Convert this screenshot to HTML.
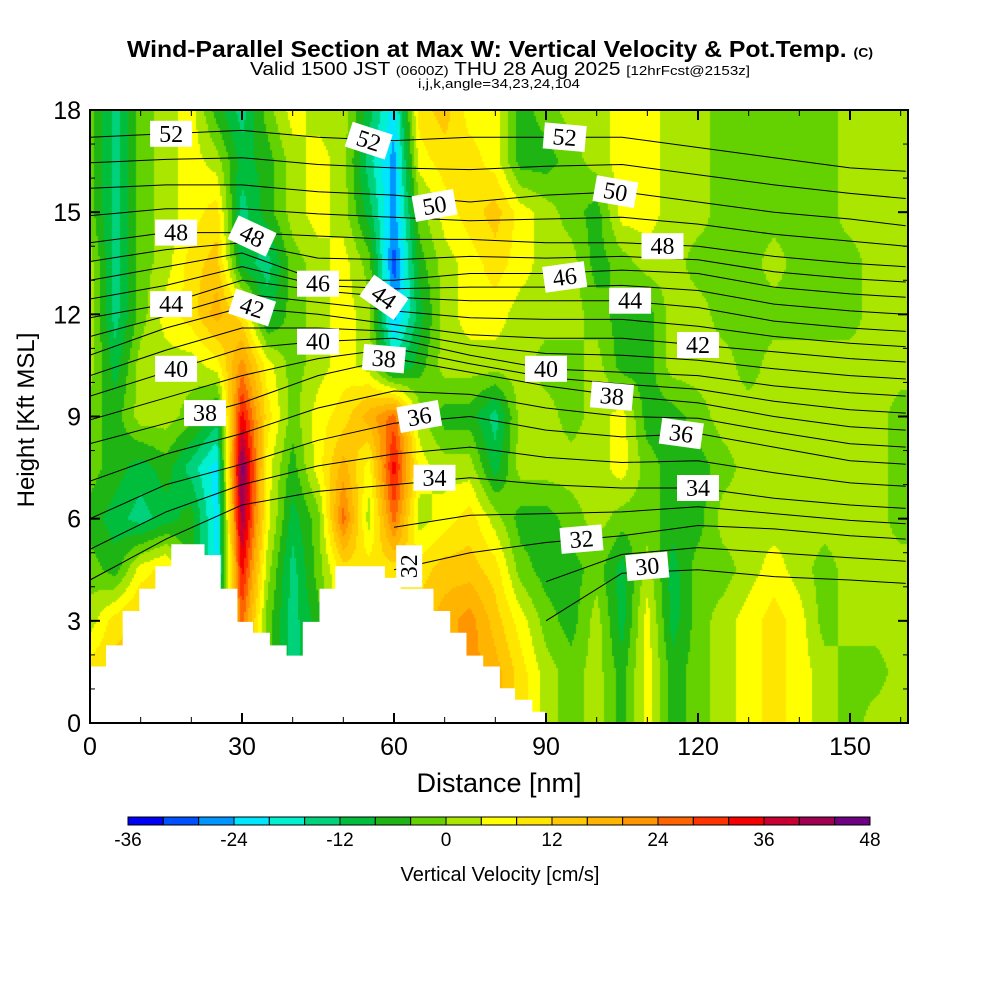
<!DOCTYPE html>
<html><head><meta charset="utf-8">
<style>
html,body{margin:0;padding:0;background:#fff;}
#wrap{position:relative;width:1000px;height:1000px;overflow:hidden;font-family:"Liberation Sans",sans-serif;}
canvas{position:absolute;left:90px;top:110px;}
svg{position:absolute;left:0;top:0;}
</style></head>
<body>
<div id="wrap">
<canvas id="field" width="818" height="613"></canvas>
<svg id="svg" width="1000" height="1000">
  <text x="127" y="57" textLength="746" lengthAdjust="spacingAndGlyphs" font-size="23" font-weight="bold">Wind-Parallel Section at Max W: Vertical Velocity &amp; Pot.Temp. <tspan font-size="13">(C)</tspan></text>
  <text x="250" y="75" textLength="500" lengthAdjust="spacingAndGlyphs" font-size="18">Valid 1500 JST <tspan font-size="13">(0600Z)</tspan> THU 28 Aug 2025 <tspan font-size="13">[12hrFcst@2153z]</tspan></text>
  <text x="418" y="88" textLength="162" lengthAdjust="spacingAndGlyphs" font-size="13">i,j,k,angle=34,23,24,104</text>
  <text x="499" y="792" text-anchor="middle" font-size="27">Distance [nm]</text>
  <text transform="translate(34,420) rotate(-90)" text-anchor="middle" font-size="24">Height [Kft MSL]</text>
  <text x="500" y="881" text-anchor="middle" font-size="20">Vertical Velocity [cm/s]</text>
</svg>
</div>
<script>
// ---- data ----
const xGrid = [0,5,10,15,20,25,30,35,40,45,50,55,60,65,70,75,80,85,90,95,100,105,110,115,120,125,130,135,140,145,150,155,160];
const hGrid = [18,16.5,15,13.5,12,10.5,9,7.5,6,4.5,3,1.5,0];
const wRow18   = [-2,-14,-2,2,6,-6,-14,-2,6,2,2,-10,-22,10,14,6,6,-6,-2,2,2,6,6,2,2,-2,-2,-2,-2,-2,2,2,2];
const wRow16_5 = [-2,-14,-2,2,6,2,-10,-6,2,6,2,-14,-26,6,10,10,6,-6,-6,-2,2,6,6,2,2,-2,-2,-2,-2,-2,2,2,2];
const wRow15   = [-2,-14,-2,2,6,10,-14,-6,2,6,2,-10,-26,-2,6,10,14,6,2,-2,-6,6,6,2,2,-2,-2,-2,-2,-2,2,2,2];
const wRow13_5 = [2,-14,-2,2,10,14,-10,-14,-2,2,6,-2,-30,-6,2,6,10,6,2,2,-6,-2,2,2,-2,-2,-2,2,-2,-2,-2,2,2];
const wRow12   = [2,-14,-2,6,10,18,10,-10,-2,2,6,2,-26,-10,2,6,6,2,2,2,-2,-6,-6,2,2,-2,-2,-2,-2,-2,-2,2,2];
const wRow10_5 = [2,-10,2,2,2,6,22,6,-2,2,6,2,-14,-6,2,2,2,2,-2,-2,2,-6,-6,2,2,2,-2,2,2,2,2,2,2];
const wRow9    = [-2,-6,2,2,-2,-10,34,10,-2,6,10,18,26,2,-6,-6,-14,2,2,-2,2,6,-6,-6,-2,2,2,2,2,2,2,2,-2];
const wRow7_5  = [-2,-6,-10,-6,-14,-22,46,6,-6,6,18,6,34,6,2,2,-10,2,2,2,2,6,-2,-6,-6,-2,2,2,2,2,2,2,-2];
const wRow6    = [-6,-10,-14,-10,-6,-22,42,6,-10,-2,26,2,26,2,6,10,2,-6,-6,-2,2,-2,-2,-6,-6,2,2,2,2,2,2,2,-2];
const wRow4_5  = [-2,-6,6,10,-6,-22,34,2,-14,-2,10,10,10,10,14,14,10,-2,-6,-6,-2,-10,2,-10,-2,-2,2,6,2,-2,2,2,2];
const wRow3    = [2,10,14,10,-6,-14,26,-2,-14,-6,10,10,10,14,18,22,14,6,-2,-6,2,-10,6,-10,-2,2,6,10,6,-2,2,2,2];
const wRow1_5  = [10,14,14,10,-6,-14,22,-2,-14,-6,10,10,10,14,18,22,18,10,2,-2,2,-6,6,-6,-2,2,6,10,6,2,-2,-2,2];
const wRow0    = [10,14,14,10,-6,-14,22,-2,-14,-6,10,10,10,14,18,22,18,10,2,-2,2,-6,6,-6,-2,2,6,10,6,2,-2,2,2];
const wRows = [wRow18,wRow16_5,wRow15,wRow13_5,wRow12,wRow10_5,wRow9,wRow7_5,wRow6,wRow4_5,wRow3,wRow1_5,wRow0];

const levels = [-36,-32,-28,-24,-20,-16,-12,-8,-4,0,4,8,12,16,20,24,28,32,36,40,44,48];
const colors = ["#0000f5","#0050ff","#0096ff","#00e6ff","#00f0d0","#00d27c","#00be3c","#1eb414","#64d200","#aae600","#ffff00","#ffe600","#ffc800","#ffb400","#ff9600","#ff6400","#ff3200","#f50000","#c80032","#a00050","#6e0082"];
const cbTicks = [-36,-24,-12,0,12,24,36,48];

const thetaX = [0,15,30,45,60,75,90,105,120,135,150,161];
const theta30 = [null,null,null,null,null,null,3.0,4.4,4.5,4.3,4.2,4.1];
const theta32 = [null,null,null,null,4.5,5.0,5.3,5.5,5.8,5.7,5.5,5.4];
const theta34 = [4.2,5.4,6.4,6.8,7.0,7.2,7.0,6.9,6.9,6.6,6.4,6.3];
const theta36 = [6.0,7.0,7.6,8.3,8.8,9.0,8.6,8.4,8.5,8.1,7.7,7.6];
const theta38 = [8.2,8.8,9.4,10.2,10.7,10.3,9.9,9.6,9.4,9.0,8.7,8.6];
const theta40 = [9.6,10.3,11.0,11.2,11.3,10.8,10.4,10.3,10.2,9.9,9.7,9.6];
const theta42 = [10.8,11.6,12.2,12.0,11.7,11.4,11.3,11.3,11.1,10.9,10.7,10.6];
const theta44 = [11.9,12.3,13.0,12.7,12.5,12.4,12.4,12.4,12.2,11.8,11.6,11.5];
const theta46 = [13.0,13.4,13.8,13.0,13.0,13.2,13.2,13.3,13.2,12.8,12.6,12.5];
const theta48 = [14.1,14.4,14.4,14.3,14.2,14.2,14.1,14.1,14.0,13.7,13.5,13.4];
const theta50 = [15.7,15.8,15.8,15.6,15.5,15.3,15.5,15.6,15.3,15.0,14.8,14.6];
const theta52 = [17.2,17.3,17.4,17.2,17.1,17.2,17.2,17.2,16.9,16.6,16.3,16.2];
const thetaLines = [theta30,theta32,theta34,theta36,theta38,theta40,theta42,theta44,theta46,theta48,theta50,theta52];

const labelLevel = [52,48,44,40,38,48,42,46,40,52,44,38,36,34,32,50,52,50,48,46,44,42,40,38,36,34,32,30];
const labelX     = [16,17,16,17,22.7,32,32,45,45,55,58,58,65,68,63,68,93.7,103.7,113,93.7,106.6,120,90,103,116.7,120,97,110];
const labelH     = [17.3,14.4,12.3,10.4,9.1,14.3,12.2,12.9,11.2,17.1,12.5,10.7,9.0,7.2,4.6,15.2,17.2,15.6,14.0,13.1,12.4,11.1,10.4,9.6,8.5,6.9,5.4,4.6];
const labelRot   = [0,0,0,0,0,25,18,0,0,18,35,5,-10,0,-90,-10,5,10,0,-8,0,0,0,5,8,0,-5,-5];

const terrainBreaks = [0,3.16,6.45,9.74,12.9,16.05,22.6,25.8,29.1,32.2,35.5,38.8,42,45.3,48.4,58.2,61.3,67.8,71.1,74.3,77.6,80.9,83.9,87.3,89.8];
const terrainH = [1.66,2.28,3.29,3.94,4.6,5.25,4.93,3.94,2.97,2.65,2.28,1.98,2.97,3.94,4.6,4.26,3.94,3.29,2.65,1.98,1.66,1.02,0.68,0.33];

const xTicks = [0,30,60,90,120,150];
const yTicks = [0,3,6,9,12,15,18];

// ---- axes ----
const PL=90, PT=110, PR=908, PB=723;
const X = v => PL + v*5.0667;
const Y = h => PB - h*(PB-PT)/18;
const NS = "http://www.w3.org/2000/svg";
const svg = document.getElementById('svg');
function mk(tag, attrs, parent){const e=document.createElementNS(NS,tag);for(const k in attrs)e.setAttribute(k,attrs[k]);(parent||svg).appendChild(e);return e;}

// ---- field ----
function wAt(nm,h){
  let fx=Math.min(Math.max(nm/5,0),xGrid.length-1.0001);
  let fh=Math.min(Math.max((18-h)/1.5,0),hGrid.length-1.0001);
  const i=Math.floor(fx), j=Math.floor(fh), a=fx-i, b=fh-j;
  const r0=wRows[j], r1=wRows[j+1];
  return (r0[i]*(1-a)+r0[i+1]*a)*(1-b)+(r1[i]*(1-a)+r1[i+1]*a)*b;
}
function colorFor(v){
  let k=Math.floor((v-levels[0])/4);
  k=Math.max(0,Math.min(colors.length-1,k));
  return colors[k];
}
const ctx=document.getElementById('field').getContext('2d');
const cs=2;
for(let py=0;py<613;py+=cs){
  for(let px=0;px<818;px+=cs){
    const nm=(px+cs/2)/5.0667, h=18-(py+cs/2)*18/613;
    ctx.fillStyle=colorFor(wAt(nm,h));
    ctx.fillRect(px,py,cs,cs);
  }
}

// ---- isentropes ----
const defs=mk('defs',{});
const cp=mk('clipPath',{id:'plotclip'},defs);
mk('rect',{x:PL,y:PT,width:PR-PL,height:PB-PT},cp);
const lineG=mk('g',{'clip-path':'url(#plotclip)'});


function drawLine(arr,name){
  let d='', started=false;
  for(let i=0;i<thetaX.length;i++){
    if(arr[i]==null){started=false;continue;}
    d+=(started?'L':'M')+X(thetaX[i]).toFixed(1)+' '+Y(arr[i]).toFixed(1)+' ';
    started=true;
  }
  const p=mk('path',{d:d,fill:'none',stroke:'#000','stroke-width':1},lineG);
  
  
}
for(let k=0;k<thetaLines.length;k++){
  drawLine(thetaLines[k],'isentrope-'+(30+2*k));
  if(k<thetaLines.length-1){
    const a=thetaLines[k], b=thetaLines[k+1];
    const mid=a.map((v,i)=>(v==null||b[i]==null)?null:(v+b[i])/2);
    drawLine(mid,'isentrope-'+(31+2*k));
  }
}

// ---- terrain ----
let td='M'+X(0)+' '+PB+' ';
for(let i=0;i<terrainH.length;i++){
  td+='L'+X(terrainBreaks[i]).toFixed(1)+' '+Y(terrainH[i]).toFixed(1)+' L'+X(terrainBreaks[i+1]).toFixed(1)+' '+Y(terrainH[i]).toFixed(1)+' ';
}
td+='L'+X(terrainBreaks[terrainBreaks.length-1]).toFixed(1)+' '+PB+' Z';
const terr=mk('path',{d:td,fill:'#fff',stroke:'none'});



// ---- contour labels ----
for(let i=0;i<labelLevel.length;i++){
  const g=mk('g',{transform:`translate(${X(labelX[i]).toFixed(1)},${Y(labelH[i]).toFixed(1)}) rotate(${labelRot[i]})`});
  
  
  mk('rect',{x:-21,y:-13,width:42,height:26,fill:'#fff'},g);
  const t=mk('text',{x:0,y:8,'text-anchor':'middle','font-size':24,'font-family':'"Liberation Serif",serif'},g);
  t.textContent=labelLevel[i];
}

// ---- frame and ticks ----
const frame=mk('rect',{x:PL,y:PT,width:PR-PL,height:PB-PT,fill:'none',stroke:'#000','stroke-width':2});


for(let v=0;v<=160;v+=10){
  const major=v%30===0;
  const L=major?10:6;
  mk('line',{x1:X(v),x2:X(v),y1:PB,y2:PB-L,stroke:'#000','stroke-width':major?2:1});
  mk('line',{x1:X(v),x2:X(v),y1:PT,y2:PT+L,stroke:'#000','stroke-width':major?2:1});
}
for(let h=0;h<=18;h+=1){
  const major=h%3===0;
  const L=major?10:5;
  mk('line',{x1:PL,x2:PL+L,y1:Y(h),y2:Y(h),stroke:'#000','stroke-width':major?2:1});
  mk('line',{x1:PR,x2:PR-L,y1:Y(h),y2:Y(h),stroke:'#000','stroke-width':major?2:1});
}
xTicks.forEach(v=>{
  const t=mk('text',{x:X(v),y:755,'text-anchor':'middle','font-size':25});
  
  
  t.textContent=v;
});
yTicks.forEach(v=>{
  const t=mk('text',{x:81,y:Y(v)+9,'text-anchor':'end','font-size':25});
  
  
  t.textContent=v;
});

// ---- colorbar ----
const CB0=128, CB1=870, cbw=(CB1-CB0)/colors.length;
const cbG=mk('g',{});


colors.forEach((c,i)=>{
  const r=mk('rect',{x:CB0+i*cbw,y:817,width:cbw,height:8,fill:c,stroke:'#000','stroke-width':1},cbG);
  
  
});
cbTicks.forEach(v=>{
  const t=mk('text',{x:CB0+(v-levels[0])/4*cbw,y:846,'text-anchor':'middle','font-size':19},cbG);
  
  
  t.textContent=v;
});
</script>
</body></html>
